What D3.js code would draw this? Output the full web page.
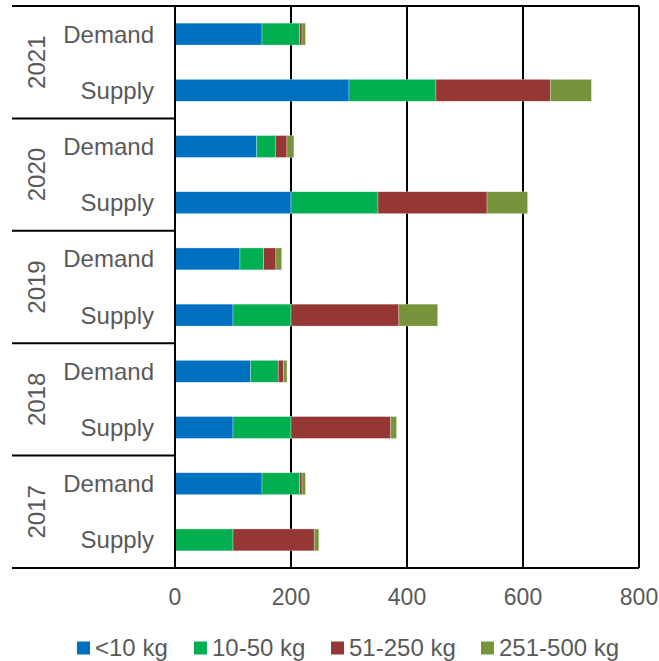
<!DOCTYPE html>
<html>
<head>
<meta charset="utf-8">
<script src="https://cdn.jsdelivr.net/npm/d3@7"></script>
<style>
  body { margin: 0; background: #fff; }
  text { font-family: "Liberation Sans", Arial, sans-serif; fill: #595959; }
</style>
</head>
<body>
<div id="chart"></div>
<script>
// rows run top to bottom: year, then Demand / Supply
const years = ["2021", "2020", "2019", "2018", "2017"];
const kinds = ["Demand", "Supply"];
const seriesNames = ["<10 kg", "10-50 kg", "51-250 kg", "251-500 kg"];
const seriesColors = ["#0070C0", "#00B050", "#953735", "#77933C"];

// values in row order: 2021 D, 2021 S, 2020 D, 2020 S, ... 2017 S
const under10 = [150, 300, 141, 200, 112, 100, 130, 100, 150, 0];
const from10to50 = [65, 150, 32, 150, 41, 100, 48, 100, 65, 100];
const from51to250 = [4, 197, 20, 188, 21, 186, 9, 172, 4, 140];
const from251to500 = [6, 71, 12, 70, 10, 67, 6, 10, 6, 8];
const xTicks = [0, 200, 400, 600, 800];

const rows = [];
years.forEach((yr, yi) => {
  kinds.forEach((k, ki) => {
    const i = yi * kinds.length + ki;
    rows.push({
      id: yr + "|" + k, year: yr, kind: k,
      "<10 kg": under10[i],
      "10-50 kg": from10to50[i],
      "51-250 kg": from51to250[i],
      "251-500 kg": from251to500[i]
    });
  });
});

const W = 659, H = 661;
const plotLeft = 175, plotRight = 639, plotTop = 6, plotBottom = 568, labelLeft = 12;

const svg = d3.select("#chart").append("svg")
  .attr("width", W)
  .attr("height", H);

const x = d3.scaleLinear().domain([0, 800]).range([plotLeft, plotRight]);

const y = d3.scaleBand()
  .domain(rows.map(d => d.id))
  .range([plotTop, plotBottom])
  .paddingInner(0.61)
  .paddingOuter(0.305);

const yearBand = d3.scaleBand().domain(years).range([plotTop, plotBottom]);

const color = d3.scaleOrdinal().domain(seriesNames).range(seriesColors);

// vertical gridlines
svg.append("g")
  .selectAll("line")
  .data(xTicks.slice(1))
  .join("line")
  .attr("x1", d => x(d)).attr("x2", d => x(d))
  .attr("y1", plotTop).attr("y2", plotBottom)
  .attr("stroke", "#000")
  .attr("stroke-width", 2);

// stacked bars
const stacked = d3.stack().keys(seriesNames)(rows);

svg.append("g")
  .selectAll("g")
  .data(stacked)
  .join("g")
  .attr("fill", d => color(d.key))
  .selectAll("rect")
  .data(d => d)
  .join("rect")
  .attr("x", d => x(d[0]))
  .attr("y", d => y(d.data.id))
  .attr("width", d => x(d[1]) - x(d[0]))
  .attr("height", y.bandwidth())
  .attr("stroke", "#fff")
  .attr("stroke-opacity", 0.5)
  .attr("stroke-width", 0.6);

// frame: top line, bottom axis, left axis
svg.append("line")
  .attr("x1", labelLeft).attr("x2", plotRight)
  .attr("y1", plotTop).attr("y2", plotTop)
  .attr("stroke", "#000").attr("stroke-width", 2);

svg.append("line")
  .attr("x1", labelLeft).attr("x2", plotRight)
  .attr("y1", plotBottom).attr("y2", plotBottom)
  .attr("stroke", "#000").attr("stroke-width", 2);

svg.append("line")
  .attr("x1", plotLeft).attr("x2", plotLeft)
  .attr("y1", plotTop).attr("y2", plotBottom)
  .attr("stroke", "#000").attr("stroke-width", 2);

// separators between year groups
svg.append("g")
  .selectAll("line")
  .data(years.slice(1))
  .join("line")
  .attr("x1", labelLeft).attr("x2", plotLeft)
  .attr("y1", d => yearBand(d)).attr("y2", d => yearBand(d))
  .attr("stroke", "#000")
  .attr("stroke-width", 2);

// category labels
svg.append("g")
  .selectAll("text")
  .data(rows)
  .join("text")
  .attr("x", 154)
  .attr("y", d => y(d.id) + y.bandwidth() / 2)
  .attr("dy", "0.35em")
  .attr("text-anchor", "end")
  .style("font-size", "24px")
  .text(d => d.kind);

// year labels
svg.append("g")
  .selectAll("text")
  .data(years)
  .join("text")
  .attr("transform", d => `translate(37,${yearBand(d) + yearBand.bandwidth() / 2}) rotate(-90)`)
  .attr("dy", "0.35em")
  .attr("text-anchor", "middle")
  .style("font-size", "24px")
  .text(d => d);

// x tick labels
svg.append("g")
  .selectAll("text")
  .data(xTicks)
  .join("text")
  .attr("x", d => x(d))
  .attr("y", 597)
  .attr("dy", "0.35em")
  .attr("text-anchor", "middle")
  .style("font-size", "23px")
  .text(d => d);

// legend
const legendX = [77, 194, 331, 481];
const legend = svg.append("g")
  .selectAll("g")
  .data(seriesNames)
  .join("g")
  .attr("transform", (d, i) => `translate(${legendX[i]},648)`);

legend.append("rect")
  .attr("x", 0).attr("y", -6.5)
  .attr("width", 13).attr("height", 13)
  .attr("fill", d => color(d));

legend.append("text")
  .attr("x", 18)
  .attr("dy", "0.35em")
  .style("font-size", "24px")
  .text(d => d);
</script>
</body>
</html>
